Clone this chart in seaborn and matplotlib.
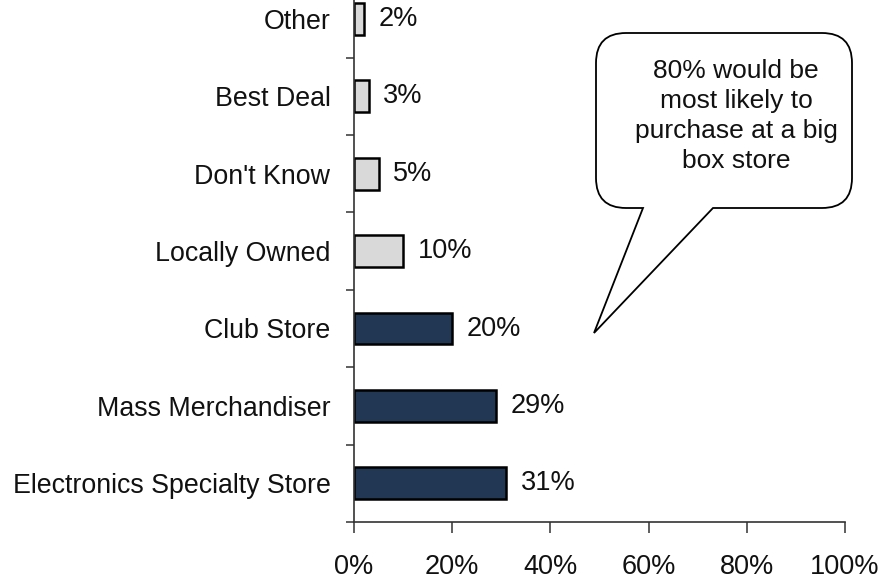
import matplotlib
matplotlib.use("Agg")
import matplotlib.pyplot as plt
from matplotlib.path import Path
from matplotlib.patches import PathPatch
import seaborn as sns
import pandas as pd

# Where people would most likely buy, share of respondents (%)
categories = ["Other", "Best Deal", "Don't Know", "Locally Owned",
              "Club Store", "Mass Merchandiser", "Electronics Specialty Store"]
shares = [2, 3, 5, 10, 20, 29, 31]
bar_colors = ["#D9D9D9", "#D9D9D9", "#D9D9D9", "#D9D9D9",
              "#18365D", "#18365D", "#18365D"]
x_ticks = [0, 20, 40, 60, 80, 100]
x_tick_labels = ["0%", "20%", "40%", "60%", "80%", "100%"]
callout_text = "80% would be\nmost likely to\npurchase at a big\nbox store"

sns.set_theme(style="white")
plt.rcParams["font.family"] = ["Liberation Sans", "DejaVu Sans"]

W, H = 880, 579
fig = plt.figure(figsize=(W / 100, H / 100), dpi=100)
ax = fig.add_axes([354 / W, 1 - 522 / H, (845 - 354) / W, (522 + 19.8) / H])

df = pd.DataFrame({"category": categories, "share": shares})
sns.barplot(data=df, x="share", y="category", hue="category",
            palette=dict(zip(categories, bar_colors)), legend=False,
            orient="h", width=0.41, edgecolor="black", linewidth=1.8,
            ax=ax)

for i, v in enumerate(shares):
    ax.annotate(f"{v}%", xy=(v, i), xytext=(10.5, 0), textcoords="offset points",
                va="center", ha="left", fontsize=19.5, color="#111111")

ax.set_xlim(0, 100)
ax.set_ylim(6.5, -0.5)
ax.set_xlabel("")
ax.set_ylabel("")
ax.set_xticks(x_ticks)
ax.set_xticklabels(x_tick_labels, fontsize=19.5, color="#111111")
ax.tick_params(axis="x", direction="out", length=8, width=1.1, color="#333333",
               pad=15, bottom=True)
ax.set_yticks(range(len(categories)))
ax.set_yticklabels(categories, fontsize=19.3, color="#111111")
ax.set_yticks([i + 0.5 for i in range(len(categories))], minor=True)
ax.tick_params(axis="y", which="major", length=0, pad=17)
ax.tick_params(axis="y", which="minor", direction="out", length=5.8, width=1.1,
               color="#333333", left=True)

for side in ("top", "right"):
    ax.spines[side].set_visible(False)
for side in ("left", "bottom"):
    ax.spines[side].set_color("#333333")
    ax.spines[side].set_linewidth(1.2)

# Speech-bubble callout in figure pixels (origin at top-left)
x0, x1, y0, y1, r = 596, 852, 33, 208, 30
tip = (594, 333)
notch_left, notch_right = 643, 713
pts = [
    ((x0 + r, y0), Path.MOVETO),
    ((x1 - r, y0), Path.LINETO),
    ((x1, y0), Path.CURVE3), ((x1, y0 + r), Path.CURVE3),
    ((x1, y1 - r), Path.LINETO),
    ((x1, y1), Path.CURVE3), ((x1 - r, y1), Path.CURVE3),
    ((notch_right, y1), Path.LINETO),
    (tip, Path.LINETO),
    ((notch_left, y1), Path.LINETO),
    ((x0 + r, y1), Path.LINETO),
    ((x0, y1), Path.CURVE3), ((x0, y1 - r), Path.CURVE3),
    ((x0, y0 + r), Path.LINETO),
    ((x0, y0), Path.CURVE3), ((x0 + r, y0), Path.CURVE3),
    ((x0 + r, y0), Path.CLOSEPOLY),
]
verts = [(px / W, 1 - py / H) for (px, py), _ in pts]
codes = [c for _, c in pts]
bubble = PathPatch(Path(verts, codes), facecolor="white", edgecolor="black",
                   linewidth=1.3, transform=fig.transFigure, zorder=5)
fig.patches.append(bubble)
fig.text(736 / W, 1 - 116 / H, callout_text, ha="center", va="center",
         fontsize=19, linespacing=1.32, color="#111111", zorder=6)

fig.savefig("out.png", dpi=100)
